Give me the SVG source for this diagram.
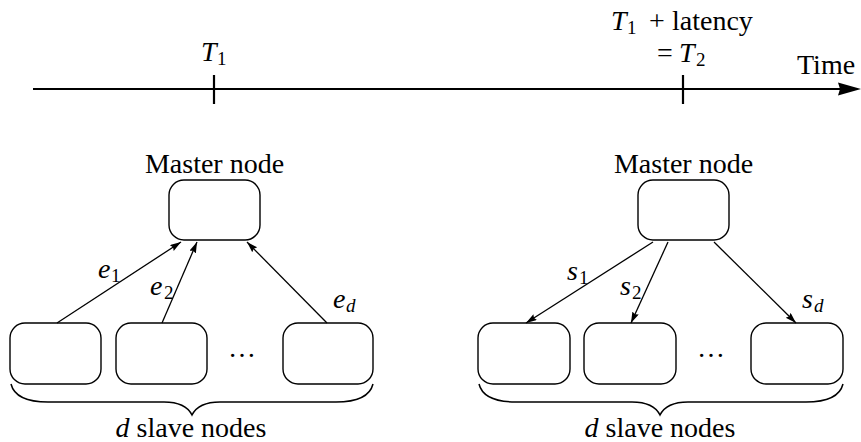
<svg xmlns="http://www.w3.org/2000/svg" width="861" height="442" viewBox="0 0 861 442">
<defs>
<marker id="ah" markerUnits="userSpaceOnUse" markerWidth="12" markerHeight="8" refX="11" refY="3.5" orient="auto">
<path d="M0,0 L11,3.5 L0,7 L1.5,3.5 Z" fill="#000"/>
</marker>
</defs>
<style>
text{font-size:28px;fill:#000}
.it{font-style:italic}
.sub{font-size:19px}
.box{fill:#fff;stroke:#000;stroke-width:1.4}
.edge{stroke:#000;stroke-width:1.3;fill:none;marker-end:url(#ah)}
.brace{stroke:#000;stroke-width:1.5;fill:none}
.axis{stroke:#000;stroke-width:2.2;fill:none}
</style>
<rect width="861" height="442" fill="#fff"/>

<g id="timeline">
<line class="axis" x1="33" y1="89" x2="842" y2="89"/>
<path d="M838,82.5 L861,89 L838,95.5 L840,89 Z" fill="#000"/>
<line class="axis" x1="214" y1="75" x2="214" y2="104"/>
<line class="axis" x1="683" y1="75" x2="683" y2="104"/>
<text x="201" y="61" font-family="Liberation Serif"><tspan class="it">T</tspan><tspan class="sub" x="217" y="65">1</tspan></text>
<text x="611" y="30" font-family="Liberation Serif"><tspan class="it">T</tspan><tspan class="sub" x="627" y="34">1</tspan><tspan x="649" y="30">+</tspan><tspan x="672" y="30">latency</tspan></text>
<text x="657" y="62" font-family="Liberation Serif">=<tspan class="it" x="679" y="62">T</tspan><tspan class="sub" x="696" y="66">2</tspan></text>
<text x="797" y="74" font-family="Liberation Serif">Time</text>
</g>

<g id="master-left">
<rect class="box" x="169" y="180" width="91" height="60" rx="15"/>
<text x="214.5" y="173" text-anchor="middle" font-family="Liberation Serif">Master node</text>
</g>
<g id="slave-left-1"><rect class="box" x="10" y="323" width="91" height="61" rx="15"/></g>
<g id="slave-left-2"><rect class="box" x="116" y="323" width="91" height="61" rx="15"/></g>
<g id="slave-left-d"><rect class="box" x="283" y="323" width="90" height="61" rx="15"/></g>
<g id="left-group">
<text x="228" y="357" font-family="Liberation Serif">…</text>
<path class="brace" d="M11,384 C14,396 26,402 48,402 L164,402 C180,402 188,407 192,415 C196,407 204,402 220,402 L336,402 C358,402 370,396 373,384"/>
<text x="191" y="437" text-anchor="middle" font-family="Liberation Serif"><tspan class="it">d</tspan> slave nodes</text>
</g>

<g id="master-right">
<rect class="box" x="638" y="180" width="91" height="60" rx="15"/>
<text x="683.5" y="173" text-anchor="middle" font-family="Liberation Serif">Master node</text>
</g>
<g id="slave-right-1"><rect class="box" x="478" y="323" width="92" height="61" rx="15"/></g>
<g id="slave-right-2"><rect class="box" x="584" y="323" width="92" height="61" rx="15"/></g>
<g id="slave-right-d"><rect class="box" x="751" y="323" width="92" height="61" rx="15"/></g>
<g id="right-group">
<text x="697" y="357" font-family="Liberation Serif">…</text>
<path class="brace" d="M479,384 C482,396 494,402 516,402 L632,402 C648,402 656,407 660,415 C664,407 672,402 688,402 L806,402 C828,402 840,396 843,384"/>
<text x="660" y="437" text-anchor="middle" font-family="Liberation Serif"><tspan class="it">d</tspan> slave nodes</text>
</g>

<g id="connectors">
<line class="edge" x1="57" y1="323" x2="181" y2="242"/>
<line class="edge" x1="162" y1="323" x2="197" y2="242"/>
<line class="edge" x1="327" y1="323" x2="247" y2="242"/>
<line class="edge" x1="653" y1="242" x2="526" y2="323"/>
<line class="edge" x1="668" y1="242" x2="631" y2="323"/>
<line class="edge" x1="714" y1="242" x2="796" y2="323"/>
<text x="98" y="278" font-family="Liberation Serif"><tspan class="it">e</tspan><tspan class="sub" x="111" y="282">1</tspan></text>
<text x="150" y="295" font-family="Liberation Serif"><tspan class="it">e</tspan><tspan class="sub" x="164" y="299">2</tspan></text>
<text x="333" y="308" font-family="Liberation Serif"><tspan class="it">e</tspan><tspan class="sub it" x="346" y="312">d</tspan></text>
<text x="567" y="280" font-family="Liberation Serif"><tspan class="it">s</tspan><tspan class="sub" x="579" y="284">1</tspan></text>
<text x="620" y="295" font-family="Liberation Serif"><tspan class="it">s</tspan><tspan class="sub" x="632" y="299">2</tspan></text>
<text x="802" y="308" font-family="Liberation Serif"><tspan class="it">s</tspan><tspan class="sub it" x="814" y="312">d</tspan></text>
</g>
</svg>
